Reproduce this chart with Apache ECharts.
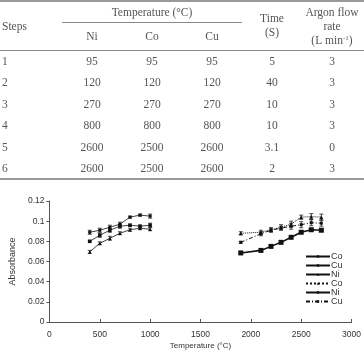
<!DOCTYPE html>
<html>
<head>
<meta charset="utf-8">
<title>Absorbance vs temperature</title>
<script src="https://cdn.jsdelivr.net/npm/echarts@6/dist/echarts.min.js"></script>
<style>
	body{margin:0;background:#fff;}
	#main{width:364px;height:354px;}
</style>
</head>
<body>
<div id="main"></div>
<script type="text/javascript">
	// table
	var metals = ['Ni', 'Co', 'Cu'];
	var steps = ['1', '2', '3', '4', '5', '6'];
	var tempNi = ['95', '120', '270', '800', '2600', '2600'];
	var tempCo = ['95', '120', '270', '800', '2500', '2500'];
	var tempCu = ['95', '120', '270', '800', '2600', '2600'];
	var times = ['5', '40', '10', '10', '3.1', '2'];
	var argon = ['3', '3', '3', '3', '0', '3'];

	// chart
	var xLeft = [400, 500, 600, 700, 800, 900, 1000];
	var coLeft = [0.089, 0.091, 0.094, 0.097, 0.104, 0.106, 0.105];
	var cuLeft = [0.080, 0.086, 0.091, 0.095, 0.096, 0.095, 0.096];
	var niLeft = [0.0695, 0.078, 0.083, 0.088, 0.0915, 0.093, 0.092];
	var coLeftErr = [0.002, 0.002, 0.002, 0.002, 0.001, 0.001, 0.002];
	var cuLeftErr = [0.001, 0.002, 0.002, 0.002, 0.001, 0.001, 0.002];
	var niLeftErr = [0.0015, 0.0015, 0.002, 0.0015, 0.0015, 0.0015, 0.0015];

	var xRight = [1900, 2100, 2200, 2300, 2400, 2500, 2600, 2700];
	var coRight = [0.088, 0.089, 0.0915, 0.094, 0.097, 0.104, 0.1045, 0.104];
	var niRight = [0.0685, 0.071, 0.075, 0.079, 0.084, 0.089, 0.0915, 0.091];
	var cuRight = [0.079, 0.0875, 0.091, 0.093, 0.095, 0.0965, 0.0985, 0.098];
	var coRightErr = [0.0015, 0.002, 0.002, 0.0025, 0.003, 0.002, 0.003, 0.003];
	var niRightErr = [0.001, 0.001, 0.001, 0.001, 0.001, 0.001, 0.001, 0.001];
	var cuRightErr = [0.001, 0.002, 0.002, 0.002, 0.003, 0.003, 0.003, 0.003];

	var yTicks = ['0', '0.02', '0.04', '0.06', '0.08', '0.1', '0.12'];
	var xTicks = ['0', '500', '1000', '1500', '2000', '2500', '3000'];

	function pairs(xs, ys){
		var out = [];
		for(var i in xs){ out.push([xs[i], ys[i]]); }
		return out;
	}
	function errTriples(xs, ys, es){
		var out = [];
		for(var i in xs){ out.push([xs[i], ys[i] - es[i], ys[i] + es[i]]); }
		return out;
	}
	function errSeries(data){
		return {
			type: 'custom',
			silent: true,
			z: 3,
			renderItem: function(params, api){
				var lo = api.coord([api.value(0), api.value(1)]);
				var hi = api.coord([api.value(0), api.value(2)]);
				var w = 2;
				var st = {stroke: '#222', lineWidth: 0.8};
				return {type: 'group', children: [
					{type: 'line', shape: {x1: lo[0], y1: lo[1], x2: hi[0], y2: hi[1]}, style: st},
					{type: 'line', shape: {x1: lo[0]-w, y1: lo[1], x2: lo[0]+w, y2: lo[1]}, style: st},
					{type: 'line', shape: {x1: hi[0]-w, y1: hi[1], x2: hi[0]+w, y2: hi[1]}, style: st}
				]};
			},
			data: data
		};
	}
	function lineSeries(name, data, symbol, size, width, type){
		return {
			name: name,
			type: 'line',
			data: data,
			symbol: symbol,
			symbolSize: size,
			showSymbol: true,
			color: '#111',
			itemStyle: {color: '#111'},
			lineStyle: {color: '#111', width: width, type: type},
			animation: false,
			z: 4
		};
	}

	var serif = 'Liberation Serif';
	var tcol = '#555';
	var graphic = [];
	function txt(x, y, s, align, rich){
		var t = {type: 'text', x: x, y: y, style: {
			text: s, font: '11.5px "' + serif + '"', fill: tcol,
			align: align || 'center', verticalAlign: 'middle'}};
		if(rich){ t.style.rich = rich; }
		graphic.push(t);
	}
	function rule(y, x1, x2, h, c){
		graphic.push({type: 'rect', shape: {x: x1, y: y, width: x2 - x1, height: h}, style: {fill: c}});
	}
	rule(0, 0, 364, 2, '#999');
	rule(22, 62, 242, 1, '#888');
	rule(50, 0, 364, 1, '#888');
	rule(178, 0, 364, 2, '#999');
	var colX = [92, 152, 212, 272, 332];
	txt(152, 13, 'Temperature (°C)');
	txt(2, 27, 'Steps', 'left');
	for(var m in metals){ txt(colX[m], 37, metals[m]); }
	txt(272, 19, 'Time');
	txt(272, 33, '(S)');
	txt(332, 13, 'Argon flow');
	txt(332, 27, 'rate');
	txt(332, 41, '(L min{s|-1})', 'center', {s: {fontSize: 7, fontFamily: serif, fill: tcol, verticalAlign: 'top', padding: [0, 0, 6, 0]}});
	for(var r in steps){
		var yy = 62 + r * 21.4;
		txt(2, yy, steps[r], 'left');
		txt(colX[0], yy, tempNi[r]);
		txt(colX[1], yy, tempCo[r]);
		txt(colX[2], yy, tempCu[r]);
		txt(colX[3], yy, times[r]);
		txt(colX[4], yy, argon[r]);
	}

	var myChart = echarts.init(document.getElementById('main'));
	var option = {
		backgroundColor: '#fff',
		animation: false,
		graphic: graphic,
		textStyle: {fontFamily: 'Liberation Sans'},
		grid: {left: 43, right: 12, top: 201, height: 121, containLabel: false},
		legend: {
			orient: 'vertical',
			left: 305,
			top: 252,
			itemWidth: 24,
			itemHeight: 3,
			itemGap: 0,
			padding: 0,
			itemStyle: {borderWidth: 0},
			textStyle: {fontSize: 9, lineHeight: 8, color: '#333', padding: [0, 0, 0, -4]},
			data: ['Co', 'Cu', 'Ni', 'Co ', 'Ni ', 'Cu ']
		},
		xAxis: {
			type: 'value',
			min: 0, max: 3000, interval: 500,
			name: 'Temperature (°C)',
			nameLocation: 'middle',
			nameGap: 20,
			nameTextStyle: {fontSize: 8, color: '#333'},
			axisLine: {lineStyle: {color: '#555', width: 1}},
			axisTick: {inside: true, length: 3, lineStyle: {color: '#555'}},
			axisLabel: {fontSize: 8.5, color: '#333', margin: 8, formatter: function(v, i){ return xTicks[i]; }},
			splitLine: {show: false}
		},
		yAxis: {
			type: 'value',
			min: 0, max: 0.12, interval: 0.02,
			name: 'Absorbance',
			nameLocation: 'middle',
			nameRotate: 90,
			nameGap: 28,
			nameTextStyle: {fontSize: 9, color: '#333'},
			axisLine: {show: true, lineStyle: {color: '#555', width: 1}},
			axisTick: {show: true, length: 3, lineStyle: {color: '#555'}},
			axisLabel: {fontSize: 8.5, color: '#333', margin: 5, formatter: function(v, i){ return yTicks[i]; }},
			splitLine: {show: false}
		},
		series: [
			lineSeries('Co', pairs(xLeft, coLeft), 'rect', 3, 0.8, 'solid'),
			lineSeries('Cu', pairs(xLeft, cuLeft), 'rect', 3.5, 0.8, 'solid'),
			lineSeries('Ni', pairs(xLeft, niLeft), 'triangle', 3.5, 0.8, 'solid'),
			lineSeries('Co ', pairs(xRight, coRight), 'triangle', 4, 1, 'dotted'),
			lineSeries('Ni ', pairs(xRight, niRight), 'rect', 5, 1.6, 'solid'),
			lineSeries('Cu ', pairs(xRight, cuRight), 'rect', 3, 1, [4, 2, 1, 2]),
			errSeries(errTriples(xLeft, coLeft, coLeftErr)),
			errSeries(errTriples(xLeft, cuLeft, cuLeftErr)),
			errSeries(errTriples(xLeft, niLeft, niLeftErr)),
			errSeries(errTriples(xRight, coRight, coRightErr)),
			errSeries(errTriples(xRight, niRight, niRightErr)),
			errSeries(errTriples(xRight, cuRight, cuRightErr))
		]
	};
	myChart.setOption(option);
</script>
</body>
</html>
